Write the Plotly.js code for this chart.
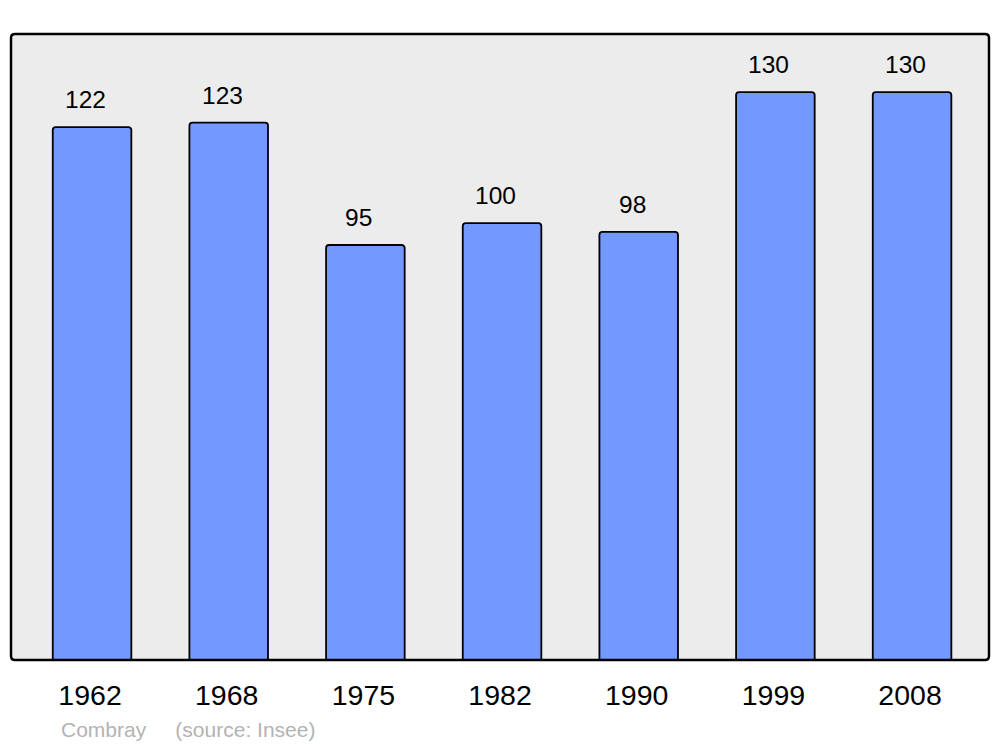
<!DOCTYPE html>
<html>
<head>
<meta charset="utf-8">
<script src="https://cdn.plot.ly/plotly-3.0.1.min.js"></script>
<style>html,body{margin:0;padding:0;background:#fff;}#chart{width:1000px;height:747px;}</style>
</head>
<body>
<div id="chart"></div>
<script>
const years = ["1962", "1968", "1975", "1982", "1990", "1999", "2008"];
const population = [122, 123, 95, 100, 98, 130, 130];
const commune = "Combray";
const sourceText = "(source: Insee)";

const W = 978, H = 626, r = 4;
const rx = r / W, ry = r / H;
const framePath = `M ${rx},0 L ${1 - rx},0 Q 1,0 1,${ry} L 1,${1 - ry} Q 1,1 ${1 - rx},1 L ${rx},1 Q 0,1 0,${1 - ry} L 0,${ry} Q 0,0 ${rx},0 Z`;

const trace = {
  type: "bar",
  x: years,
  y: population,
  width: 0.575,
  marker: { color: "#7399FF", line: { color: "#000", width: 1.8 }, cornerradius: 3 },
  hoverinfo: "none"
};

const annotations = years.map((yr, i) => ({
  x: i, y: population[i], xref: "x", yref: "y",
  text: String(population[i]), showarrow: false,
  yanchor: "bottom", yshift: 12, xshift: -6.5,
  font: { family: "Liberation Sans, Arial, sans-serif", size: 24.5, color: "#000" }
}));
annotations.push({
  xref: "paper", yref: "paper", x: 0.049, y: -0.09, xanchor: "left", yanchor: "top",
  text: commune + "&nbsp;&nbsp;&nbsp;&nbsp;&nbsp;" + sourceText, showarrow: false,
  font: { family: "Liberation Sans, Arial, sans-serif", size: 21, color: "#b3b3b3" }
});

const layout = {
  width: 1000, height: 747,
  margin: { l: 11, r: 11, t: 34, b: 87, pad: 0 },
  paper_bgcolor: "#ffffff",
  plot_bgcolor: "#ececec",
  showlegend: false,
  xaxis: {
    type: "category", range: [-0.593, 6.563], showgrid: false, zeroline: false,
    showline: false, ticks: "outside", ticklen: 0, ticklabelstandoff: 10, ticklabelshift: -2,
    tickfont: { family: "Liberation Sans, Arial, sans-serif", size: 28.5, color: "#000" },
    fixedrange: true
  },
  yaxis: {
    range: [0, 143.3], showgrid: false, zeroline: false, showline: false,
    showticklabels: false, fixedrange: true
  },
  shapes: [{
    type: "path", xref: "paper", yref: "paper", path: framePath,
    line: { color: "#000", width: 2.5 }, layer: "above"
  }],
  annotations: annotations
};

Plotly.newPlot("chart", [trace], layout, { staticPlot: true, displayModeBar: false });
</script>
</body>
</html>
